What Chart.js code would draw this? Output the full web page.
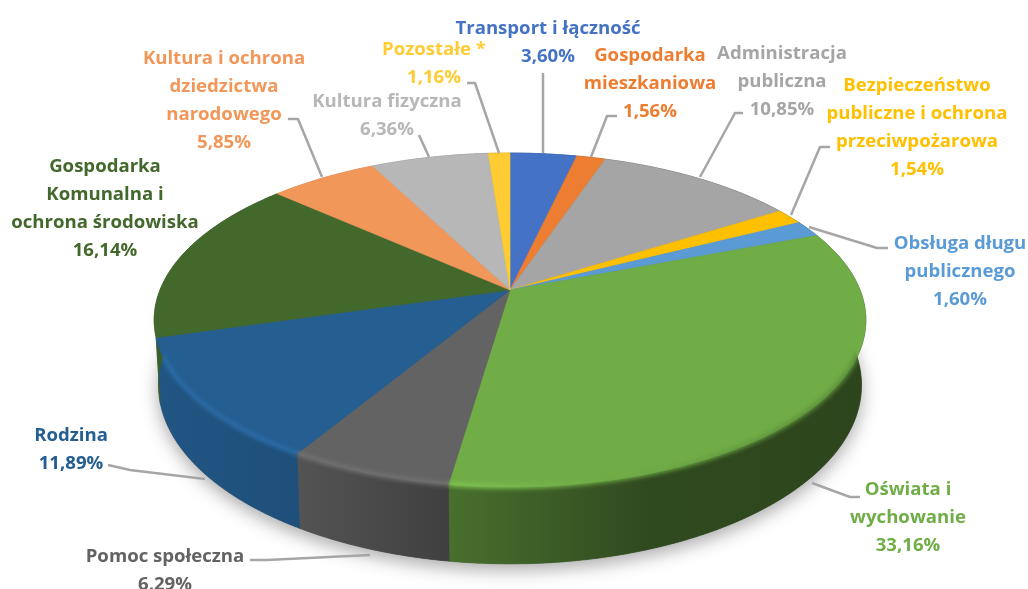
<!DOCTYPE html>
<html lang="pl">
<head>
<meta charset="utf-8">
<title>Wydatki</title>
<script src="https://cdn.jsdelivr.net/npm/chart.js@4/dist/chart.umd.min.js"></script>
<style>
html,body{margin:0;padding:0;background:#fff;overflow:hidden}
canvas{display:block;filter:blur(.4px)}
</style>
</head>
<body>
<canvas id="c" width="1028" height="589"></canvas>
<script>
// --- data ---
const categories = [
  ["Transport i łączność"],
  ["Gospodarka","mieszkaniowa"],
  ["Administracja","publiczna"],
  ["Bezpieczeństwo","publiczne i ochrona","przeciwpożarowa"],
  ["Obsługa długu","publicznego"],
  ["Oświata i","wychowanie"],
  ["Pomoc społeczna"],
  ["Rodzina"],
  ["Gospodarka","Komunalna i","ochrona środowiska"],
  ["Kultura i ochrona","dziedzictwa","narodowego"],
  ["Kultura fizyczna"],
  ["Pozostałe *"]
];
const values = [3.60,1.56,10.85,1.54,1.60,33.16,6.29,11.89,16.14,5.85,6.36,1.16];
const colors = ["#4472c4","#ed7d31","#a5a5a5","#ffc000","#5b9bd5","#70ad47","#636363","#255e91","#43682b","#f1975a","#b7b7b7","#ffcd33"];

// --- layout of the outside labels: centre x, first line y, and the leader polyline ---
const labelLayout = [
  {x:548,y:28.5, line:[[543,73],[543,153]]},
  {x:650,y:55.5, line:[[617,116],[607,116],[591,157]]},
  {x:782,y:53.5, line:[[743,113],[735,113],[700,177]]},
  {x:917,y:85.5, line:[[830,147],[820,147],[791,215]]},
  {x:960,y:243.5,line:[[888,248],[877,248],[809,227]]},
  {x:908,y:489.5,line:[[860,497],[850,497],[812,483]]},
  {x:165,y:556.5,line:[[250,560],[267,560],[370,555]]},
  {x:71, y:435.5,line:[[108,465],[130,470],[205,479]]},
  {x:105,y:166.5,line:null},
  {x:224,y:58.5, line:[[288,119],[298,119],[322,177]]},
  {x:387,y:101.5,line:[[419,135],[429,157]]},
  {x:434,y:49.5, line:[[467,83],[475,83],[499,153]]}
];
const LINE_GAP = 28;
const FONT = '700 18.6px "Open Sans"';

// --- 3D look ---
const PERSP = 0.18, FLAT = 0.4617, DEPTH = 63, SHRINK = 0.988;
const sideShade = [[0,.9],[.2,.85],[.41,.65],[.69,.43],[1,.40]];
const rimShade  = [[0,1.15],[.41,1.15],[.62,1.0],[1,.8]];

function tone(hex,f){
  const n=parseInt(hex.slice(1),16);
  const c=[n>>16,(n>>8)&255,n&255].map(v=>Math.min(255,Math.round(v*f)));
  return `rgb(${c[0]},${c[1]},${c[2]})`;
}
function project(el,t,a){
  const X=t*Math.cos(a),Y=t*Math.sin(a),w=1-PERSP*Y;
  return [el.x+el.outerRadius*X/w, el.y+el.outerRadius*FLAT*Y/w, w];
}
function lower(el,a){
  const p=project(el,1,a);
  return [el.x+(p[0]-el.x)*SHRINK, p[1]+DEPTH/p[2]];
}
function arcPts(a0,a1,fn){
  const n=Math.max(2,Math.ceil(Math.abs(a1-a0)/0.01)),o=[];
  for(let i=0;i<=n;i++)o.push(fn(a0+(a1-a0)*i/n));
  return o;
}
function trace(ctx,pts,start){
  pts.forEach((p,i)=>{ if(i===0&&start)ctx.moveTo(p[0],p[1]); else ctx.lineTo(p[0],p[1]); });
}
function grad(ctx,base,stops){
  const g=ctx.createLinearGradient(150,0,870,0);
  stops.forEach(s=>g.addColorStop(s[0],tone(base,s[1])));
  return g;
}

const pie3d = {
  id:'pie3d',
  beforeDatasetDraw(chart,args){
    const ctx=chart.ctx, els=args.meta.data, first=els[0];
    ctx.save();
    // soft shadow under the disc
    ctx.beginPath();
    trace(ctx,arcPts(0,Math.PI*2,a=>lower(first,a)),true);
    ctx.closePath();
    ctx.shadowColor='rgba(0,0,0,.34)';ctx.shadowBlur=18;ctx.shadowOffsetY=6;
    ctx.fillStyle='#555';ctx.fill();
    ctx.shadowColor='transparent';ctx.shadowBlur=0;ctx.shadowOffsetY=0;
    // outer wall
    els.forEach((el,i)=>{
      const g=grad(ctx,colors[i],sideShade);
      ctx.beginPath();
      trace(ctx,arcPts(el.startAngle,el.endAngle,a=>project(el,1,a)),true);
      trace(ctx,arcPts(el.endAngle,el.startAngle,a=>lower(el,a)),false);
      ctx.closePath();
      ctx.fillStyle=g;ctx.strokeStyle=g;ctx.lineWidth=.6;ctx.fill();ctx.stroke();
    });
    // top face
    els.forEach((el,i)=>{
      ctx.beginPath();
      const c=project(el,0,0);
      ctx.moveTo(c[0],c[1]);
      trace(ctx,arcPts(el.startAngle,el.endAngle,a=>project(el,1,a)),false);
      ctx.closePath();
      ctx.fillStyle=el.options.backgroundColor;ctx.strokeStyle=el.options.backgroundColor;
      ctx.lineWidth=.6;ctx.fill();ctx.stroke();
    });
    // soft bevel on the front rim, kept inside the disc outline
    ctx.beginPath();
    trace(ctx,arcPts(0,Math.PI*2,a=>project(first,1,a)),true);ctx.closePath();
    trace(ctx,arcPts(0,Math.PI*2,a=>lower(first,a)),true);ctx.closePath();
    trace(ctx,arcPts(Math.PI+.5,-.5,a=>project(first,1,a)),true);
    trace(ctx,arcPts(-.5,Math.PI+.5,a=>lower(first,a)),false);ctx.closePath();
    ctx.clip();
    ctx.filter='blur(2px)';ctx.lineCap='butt';
    els.forEach((el,i)=>{
      const a0=Math.max(el.startAngle,-0.45),a1=Math.min(el.endAngle,Math.PI+0.25);
      if(a1<=a0)return;
      ctx.beginPath();
      trace(ctx,arcPts(a0,a1,a=>{const p=project(el,1,a);return [p[0],p[1]-.5];}),true);
      ctx.strokeStyle=grad(ctx,colors[i],rimShade);ctx.lineWidth=4.5;ctx.stroke();
    });
    ctx.filter='none';
    ctx.restore();
    return false;
  },
  afterDatasetsDraw(chart){
    const ctx=chart.ctx;
    ctx.save();
    // leader lines
    ctx.strokeStyle='#a6a6a6';ctx.lineWidth=2.5;ctx.lineJoin='round';
    labelLayout.forEach(l=>{
      if(!l.line)return;
      ctx.beginPath();trace(ctx,l.line,true);ctx.stroke();
    });
    // labels
    ctx.font=FONT;ctx.textAlign='center';ctx.textBaseline='middle';
    categories.forEach((lines,i)=>{
      const l=labelLayout[i];
      const text=lines.concat(values[i].toFixed(2).replace('.',',')+'%');
      ctx.fillStyle=colors[i];
      text.forEach((t,j)=>ctx.fillText(t,l.x,l.y+j*LINE_GAP));
    });
    ctx.restore();
  }
};

new Chart(document.getElementById('c'),{
  type:'pie',
  data:{
    labels:categories.map(c=>c.join(' ')),
    datasets:[{data:values,backgroundColor:colors,borderWidth:0}]
  },
  options:{
    responsive:false,
    animation:false,
    radius:350,
    layout:{padding:{right:8,bottom:9}},
    plugins:{legend:{display:false},tooltip:{enabled:false},title:{display:false}}
  },
  plugins:[pie3d]
});
</script>
</body>
</html>
